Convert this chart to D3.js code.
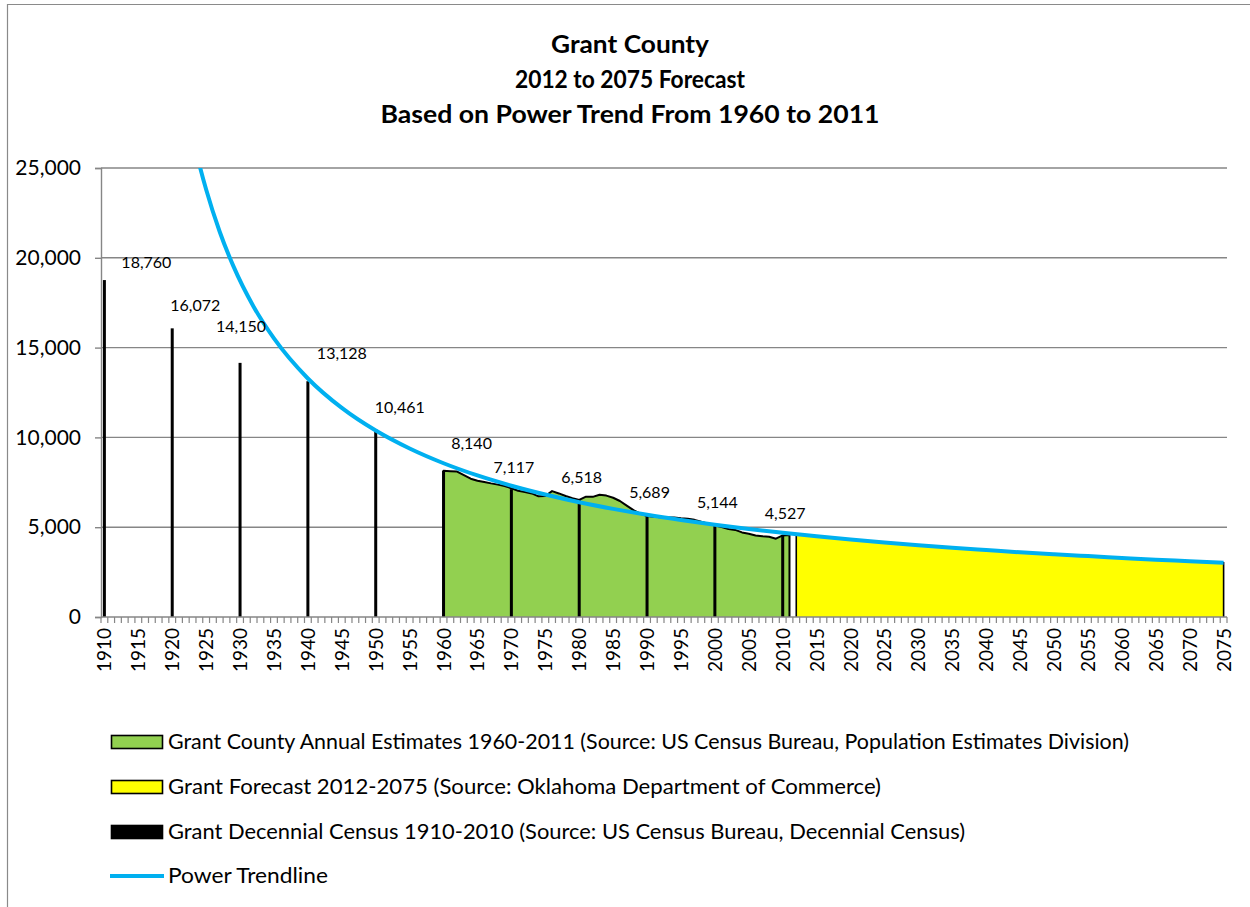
<!DOCTYPE html>
<html>
<head>
<meta charset="utf-8">
<script src="https://cdn.jsdelivr.net/npm/d3@7"></script>
<style>
  html, body { margin: 0; padding: 0; background: #fff; }
  svg { display: block; }
  text { font-family: Lato, "Open Sans", sans-serif; fill: #000; }
</style>
</head>
<body>
<svg id="chart" width="1250" height="907"></svg>
<script>
// ---------- DATA ----------
const titleLines = ["Grant County", "2012 to 2075 Forecast", "Based on Power Trend From 1960 to 2011"];

const firstYear = 1910, lastYear = 2075;
const xTickYears = [1910,1915,1920,1925,1930,1935,1940,1945,1950,1955,1960,1965,1970,1975,1980,1985,1990,1995,2000,2005,2010,2015,2020,2025,2030,2035,2040,2045,2050,2055,2060,2065,2070,2075];
const yTicks = [0, 5000, 10000, 15000, 20000, 25000];

// Decennial census 1910-2010
const censusYears = [1910,1920,1930,1940,1950,1960,1970,1980,1990,2000,2010];
const censusValues = [18760,16072,14150,13128,10461,8140,7117,6518,5689,5144,4527];

// Annual estimates 1960-2011
const estimateYears = [1960,1961,1962,1963,1964,1965,1966,1967,1968,1969,1970,1971,1972,1973,1974,1975,1976,1977,1978,1979,1980,1981,1982,1983,1984,1985,1986,1987,1988,1989,1990,1991,1992,1993,1994,1995,1996,1997,1998,1999,2000,2001,2002,2003,2004,2005,2006,2007,2008,2009,2010,2011];
const estimateValues = [8140,8120,8100,7900,7700,7590,7520,7440,7370,7290,7170,7030,6960,6880,6720,6740,7010,6880,6740,6620,6520,6700,6690,6810,6760,6640,6460,6200,5950,5760,5620,5580,5560,5540,5540,5500,5470,5410,5300,5200,5100,5010,4900,4850,4710,4640,4540,4500,4470,4360,4540,4570];

// Forecast 2012-2075
const forecastYears = [2012,2013,2014,2015,2016,2017,2018,2019,2020,2021,2022,2023,2024,2025,2026,2027,2028,2029,2030,2031,2032,2033,2034,2035,2036,2037,2038,2039,2040,2041,2042,2043,2044,2045,2046,2047,2048,2049,2050,2051,2052,2053,2054,2055,2056,2057,2058,2059,2060,2061,2062,2063,2064,2065,2066,2067,2068,2069,2070,2071,2072,2073,2074,2075];
const forecastValues = [4600,4570,4530,4490,4450,4420,4380,4350,4310,4280,4240,4210,4180,4150,4120,4090,4060,4030,4000,3970,3940,3910,3880,3860,3830,3800,3780,3750,3730,3700,3680,3650,3630,3600,3580,3560,3540,3510,3490,3470,3450,3430,3410,3390,3370,3350,3330,3310,3290,3270,3250,3230,3210,3190,3180,3160,3140,3120,3110,3090,3070,3060,3040,3020];

// Power trendline points
const trendYears = [1922,1923,1924,1925,1927,1929,1932,1935,1940,1945,1950,1955,1960,1965,1970,1975,1980,1985,1990,1995,2000,2005,2010,2015,2020,2025,2030,2035,2040,2045,2050,2055,2060,2065,2070,2075];
const trendValues = [28580,26770,25190,23800,21450,19550,17280,15510,13280,11640,10380,9380,8560,7880,7310,6820,6390,6020,5690,5400,5140,4900,4690,4490,4310,4150,4000,3860,3730,3600,3490,3390,3290,3190,3110,3020];

const legendLabels = [
  "Grant County Annual Estimates 1960-2011 (Source: US Census Bureau, Population Estimates Division)",
  "Grant Forecast 2012-2075 (Source: Oklahoma Department of Commerce)",
  "Grant Decennial Census 1910-2010 (Source: US Census Bureau, Decennial Census)",
  "Power Trendline"
];

// ---------- LAYOUT (not data) ----------
const plot = { left: 101, right: 1227, top: 168, bottom: 617 };
const colors = { green: "#92D050", yellow: "#FFFF00", trend: "#00B0F0", grid: "#868686" };
// data label offsets relative to bar top-center [dx, dy]
const labelOffsets = [[42,-18],[23,-23],[1,-37],[34,-28],[24,-22],[28,-28],[2.5,-22.5],[2.5,-22.5],[2.5,-22.5],[2.5,-22.5],[2.5,-22.5]];
const titleWidths = [158, 230, 499];
const legendWidths = [961, 713, 797, 160];

// ---------- SCALES ----------
const svg = d3.select("#chart");
const years = d3.range(firstYear, lastYear + 1);
const x = d3.scaleBand().domain(years).range([plot.left, plot.right]).paddingInner(0).paddingOuter(0);
const bw = x.bandwidth();
const xc = yr => x(yr) + bw / 2;
const xLin = d3.scaleLinear().domain([firstYear - 0.5, lastYear + 0.5]).range([plot.left, plot.right]);
const y = d3.scaleLinear().domain([0, 25000]).range([plot.bottom, plot.top]);

// border
svg.append("path")
  .attr("d", `M7.5,1300 L7.5,4.5 L1300,4.5`)
  .attr("fill", "none").attr("stroke", "#8a8a8a").attr("stroke-width", 1.2);

// title
svg.append("g").selectAll("text").data(titleLines).join("text")
  .attr("x", 630).attr("y", (d, i) => 53 + i * 35)
  .attr("text-anchor", "middle")
  .attr("textLength", (d, i) => titleWidths[i]).attr("lengthAdjust", "spacingAndGlyphs")
  .style("font-size", "24px").style("font-weight", "bold")
  .text(d => d);

// gridlines
svg.append("g").selectAll("line").data(yTicks.filter(d => d > 0)).join("line")
  .attr("x1", plot.left).attr("x2", plot.right)
  .attr("y1", d => y(d)).attr("y2", d => y(d))
  .attr("stroke", colors.grid).attr("stroke-width", 1.4);

// forecast area (yellow)
const fData = forecastYears.map((yr, i) => ({ yr, v: forecastValues[i] }));
svg.append("path").datum(fData)
  .attr("d", d3.area().x(d => xc(d.yr)).y0(y(0)).y1(d => y(d.v)))
  .attr("fill", colors.yellow);
svg.append("path")
  .datum([{ yr: forecastYears[0], v: 0 }, ...fData, { yr: forecastYears[forecastYears.length - 1], v: 0 }])
  .attr("d", d3.line().x(d => xc(d.yr)).y(d => y(d.v)))
  .attr("fill", "none").attr("stroke", "#000").attr("stroke-width", 1.6);

// estimates area (green)
const eData = estimateYears.map((yr, i) => ({ yr, v: estimateValues[i] }));
svg.append("path").datum(eData)
  .attr("d", d3.area().x(d => xc(d.yr)).y0(y(0)).y1(d => y(d.v)))
  .attr("fill", colors.green);
svg.append("path")
  .datum([{ yr: estimateYears[0], v: 0 }, ...eData, { yr: estimateYears[estimateYears.length - 1], v: 0 }])
  .attr("d", d3.line().x(d => xc(d.yr)).y(d => y(d.v)))
  .attr("fill", "none").attr("stroke", "#000").attr("stroke-width", 2).attr("stroke-linejoin", "round");

// decennial census bars
const cData = censusYears.map((yr, i) => ({ yr, v: censusValues[i], off: labelOffsets[i] }));
svg.append("g").selectAll("rect").data(cData).join("rect")
  .attr("x", d => xc(d.yr) - 1.5).attr("width", 3)
  .attr("y", d => y(d.v)).attr("height", d => y(0) - y(d.v))
  .attr("fill", "#000");

// axes
const yAxis = svg.append("g").attr("transform", `translate(${plot.left},0)`)
  .call(d3.axisLeft(y).tickValues(yTicks).tickSize(6).tickPadding(14).tickFormat(d3.format(",")));
yAxis.select(".domain").attr("stroke", colors.grid).attr("stroke-width", 1.4);
yAxis.selectAll(".tick line").attr("stroke", colors.grid).attr("stroke-width", 1.4);
yAxis.selectAll(".tick text").style("font-size", "21px").style("font-family", "Lato, sans-serif").attr("fill", "#000");

const xAxisG = svg.append("g").attr("transform", `translate(0,${plot.bottom})`);
xAxisG.append("line").attr("x1", plot.left).attr("x2", plot.right).attr("y1", 0).attr("y2", 0)
  .attr("stroke", colors.grid).attr("stroke-width", 1.4);
// minor tick marks at every category boundary
xAxisG.selectAll("line.mt").data(years.concat([lastYear + 1])).join("line").attr("class", "mt")
  .attr("x1", d => xLin(d - 0.5)).attr("x2", d => xLin(d - 0.5))
  .attr("y1", 0).attr("y2", 6)
  .attr("stroke", colors.grid).attr("stroke-width", 1.2);
xAxisG.selectAll("text").data(xTickYears).join("text")
  .attr("transform", d => `translate(${xc(d) + 7},11) rotate(-90)`)
  .attr("text-anchor", "end")
  .style("font-size", "19px")
  .text(d => d);

// trendline
svg.append("clipPath").attr("id", "plotClip").append("rect")
  .attr("x", plot.left).attr("y", plot.top).attr("width", plot.right - plot.left).attr("height", plot.bottom - plot.top);
const tData = trendYears.map((yr, i) => ({ yr, v: trendValues[i] }));
svg.append("path").datum(tData)
  .attr("clip-path", "url(#plotClip)")
  .attr("d", d3.line().x(d => xLin(d.yr)).y(d => y(d.v)).curve(d3.curveMonotoneX))
  .attr("fill", "none").attr("stroke", colors.trend).attr("stroke-width", 4);

// data labels
svg.append("g").selectAll("text").data(cData).join("text")
  .attr("x", d => xc(d.yr) + d.off[0])
  .attr("y", d => y(d.v) + d.off[1] + 6)
  .attr("text-anchor", "middle")
  .style("font-size", "16px")
  .text(d => d3.format(",")(d.v));

// legend
const legendRows = [
  { type: "rect", fill: colors.green, stroke: "#000", cy: 742 },
  { type: "rect", fill: colors.yellow, stroke: "#000", cy: 787 },
  { type: "rect", fill: "#000", stroke: "#000", cy: 832 },
  { type: "line", stroke: colors.trend, cy: 876 }
];
const lg = svg.append("g");
legendRows.forEach((r, i) => {
  if (r.type === "rect") {
    lg.append("rect").attr("x", 111.5).attr("y", r.cy - 6.5).attr("width", 51).attr("height", 13)
      .attr("fill", r.fill).attr("stroke", r.stroke).attr("stroke-width", 1.6);
  } else {
    lg.append("line").attr("x1", 110).attr("x2", 164).attr("y1", r.cy).attr("y2", r.cy)
      .attr("stroke", r.stroke).attr("stroke-width", 4);
  }
  lg.append("text").attr("x", 168).attr("y", r.cy + 7)
    .attr("textLength", legendWidths[i]).attr("lengthAdjust", "spacingAndGlyphs")
    .style("font-size", "21px")
    .text(legendLabels[i]);
});
</script>
</body>
</html>
